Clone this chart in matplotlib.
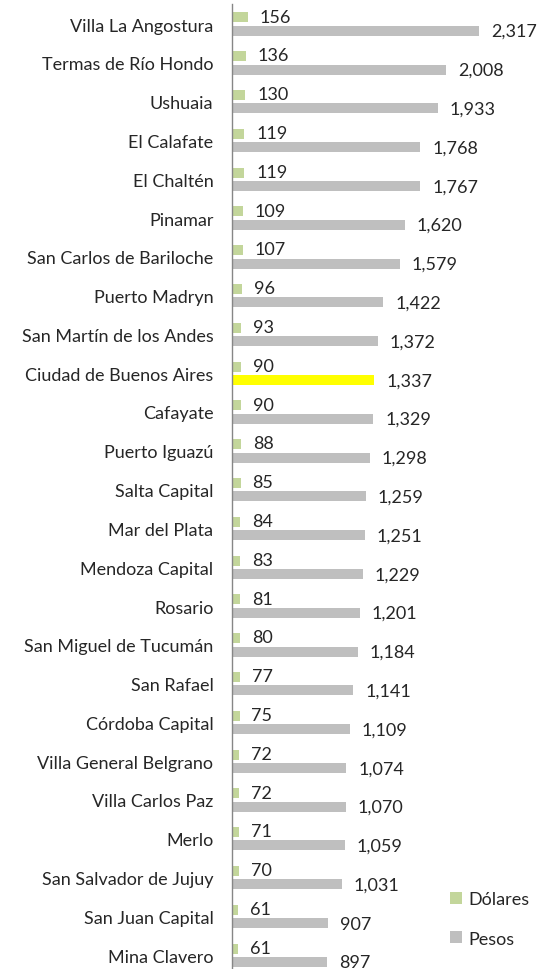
import matplotlib
matplotlib.use("Agg")
import matplotlib.pyplot as plt
from matplotlib.patches import Patch
import numpy as np

categories = ["Villa La Angostura", "Termas de Río Hondo", "Ushuaia", "El Calafate",
              "El Chaltén", "Pinamar", "San Carlos de Bariloche", "Puerto Madryn",
              "San Martín de los Andes", "Ciudad de Buenos Aires", "Cafayate",
              "Puerto Iguazú", "Salta Capital", "Mar del Plata", "Mendoza Capital",
              "Rosario", "San Miguel de Tucumán", "San Rafael", "Córdoba Capital",
              "Villa General Belgrano", "Villa Carlos Paz", "Merlo",
              "San Salvador de Jujuy", "San Juan Capital", "Mina Clavero"]
dolares = [156, 136, 130, 119, 119, 109, 107, 96, 93, 90, 90, 88, 85, 84, 83,
           81, 80, 77, 75, 72, 72, 71, 70, 61, 61]
pesos = [2317, 2008, 1933, 1768, 1767, 1620, 1579, 1422, 1372, 1337, 1329, 1298,
         1259, 1251, 1229, 1201, 1184, 1141, 1109, 1074, 1070, 1059, 1031, 907, 897]
highlight = "Ciudad de Buenos Aires"
series_names = ["Dólares", "Pesos"]

GREEN = "#c3d69b"
GRAY = "#bfbfbf"
YELLOW = "#ffff00"
TEXT = "#262626"

plt.rcParams['font.family'] = ['Lato', 'DejaVu Sans']

W, H = 537, 970
fig = plt.figure(figsize=(W / 100, H / 100), dpi=100)
left_px, top_px, bot_px = 231.5, 5, 970
ax = fig.add_axes([left_px / W, 0, 1 - left_px / W, (bot_px - top_px) / H])

n = len(categories)
y = np.arange(n)
spacing = 38.8
# pixel centre of category i = 25 + spacing*i
y_top = (top_px - 25) / spacing
y_bot = (bot_px - 25) / spacing
off = 6.7 / spacing
h = 10 / spacing

ax.barh(y - off, dolares, height=h, color=GREEN)
pcolors = [YELLOW if c == highlight else GRAY for c in categories]
ax.barh(y + off, pesos, height=h, color=pcolors)

xmax = (W - left_px) / ((479 - 231.5) / 2317)
ax.set_xlim(0, xmax)
ax.set_ylim(y_bot, y_top)

fs = 13
for i in range(n):
    ax.annotate(f"{dolares[i]:,}", (dolares[i], y[i] - off), xytext=(8.5, 0.5),
                textcoords="offset points", va="center", ha="left",
                fontsize=fs, color=TEXT)
    ax.annotate(f"{pesos[i]:,}", (pesos[i], y[i] + off), xytext=(8.5, -0.3),
                textcoords="offset points", va="center", ha="left",
                fontsize=fs, color=TEXT, annotation_clip=False)

ax.set_yticks(y)
ax.set_yticklabels(categories, fontsize=fs, color=TEXT)
ax.tick_params(axis='y', length=0, pad=13)
ax.set_xticks([])
for s in ["top", "right", "bottom"]:
    ax.spines[s].set_visible(False)
ax.spines["left"].set_color("#868686")
ax.spines["left"].set_linewidth(1)

handles = [Patch(facecolor=GREEN, edgecolor="none"), Patch(facecolor=GRAY, edgecolor="none")]
leg = fig.legend(handles, series_names, loc="center left",
                 bbox_to_anchor=(434 / W, 1 - 920 / H), frameon=False,
                 fontsize=fs, handlelength=0.65, handleheight=0.65,
                 handletextpad=0.35, labelspacing=1.3, labelcolor=TEXT)

fig.savefig("out.png", dpi=100)
